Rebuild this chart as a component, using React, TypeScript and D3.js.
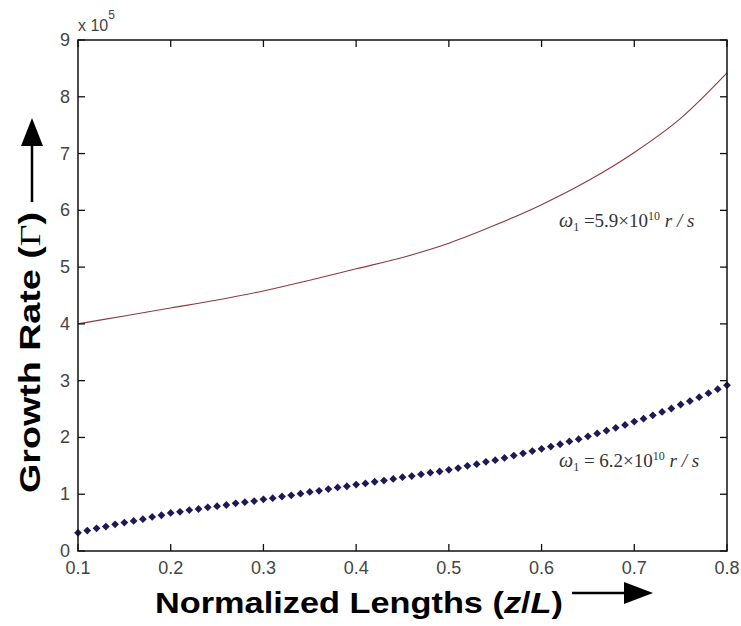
import React from "react";
import * as d3 from "d3";

const redX = [0.10, 0.15, 0.20, 0.25, 0.30, 0.35, 0.40, 0.45, 0.50, 0.55, 0.60, 0.65, 0.70, 0.75, 0.80];
const redY = [4.00, 4.14, 4.28, 4.42, 4.58, 4.77, 4.97, 5.17, 5.42, 5.74, 6.10, 6.52, 7.02, 7.62, 8.42];

const blueX = d3.range(71).map((i) => +(0.1 + i * 0.01).toFixed(2));
const blueY = [
  0.32, 0.36, 0.40, 0.43, 0.47, 0.50, 0.53, 0.56, 0.60, 0.63,
  0.67, 0.69, 0.72, 0.74, 0.77, 0.79, 0.81, 0.84, 0.86, 0.88,
  0.91, 0.93, 0.96, 0.98, 1.01, 1.04, 1.06, 1.09, 1.12, 1.14,
  1.17, 1.19, 1.22, 1.24, 1.27, 1.30, 1.32, 1.35, 1.38, 1.40,
  1.43, 1.46, 1.50, 1.53, 1.57, 1.60, 1.64, 1.68, 1.72, 1.76,
  1.80, 1.84, 1.88, 1.93, 1.97, 2.02, 2.07, 2.12, 2.17, 2.22,
  2.28, 2.33, 2.39, 2.45, 2.51, 2.58, 2.64, 2.71, 2.78, 2.85,
  2.92,
];

const xTicks = [0.1, 0.2, 0.3, 0.4, 0.5, 0.6, 0.7, 0.8];
const yTicks = [0, 1, 2, 3, 4, 5, 6, 7, 8, 9];

export default function App() {
  const W = 741, H = 626;
  const L = 78, R = 727, T = 40, B = 551;
  const x = d3.scaleLinear().domain([0.1, 0.8]).range([L, R]);
  const y = d3.scaleLinear().domain([0, 9]).range([B, T]);
  const redLine = d3.line<number>().x((_, i) => x(redX[i])).y((d) => y(d)).curve(d3.curveMonotoneX)(redY) || "";
  const s = 3.9;
  const diamond = `M0,${-s} L${s},0 L0,${s} L${-s},0 Z`;
  const tickLen = 7;
  const sans = "'Liberation Sans', Arial, sans-serif";
  const serif = "'Liberation Serif', 'Times New Roman', serif";
  return (
    <svg width={W} height={H} style={{ position: "absolute", left: 0, top: 0, background: "#fff" }}>
      <rect x={0} y={0} width={W} height={H} fill="#fff" />
      {/* red curve */}
      <path d={redLine} fill="none" stroke="#8a3a40" strokeWidth={1.1} />
      {/* blue markers */}
      {blueY.map((v, i) => (
        <path key={i} d={diamond} transform={`translate(${x(blueX[i])},${y(v)})`} fill="#1c1a55" />
      ))}
      {/* box */}
      <rect x={L} y={T} width={R - L} height={B - T} fill="none" stroke="#111" strokeWidth={1.5} />
      {xTicks.map((t) => (
        <g key={"x" + t}>
          <line x1={x(t)} x2={x(t)} y1={B} y2={B - tickLen} stroke="#111" strokeWidth={1.3} />
          <line x1={x(t)} x2={x(t)} y1={T} y2={T + tickLen} stroke="#111" strokeWidth={1.3} />
          <text x={x(t)} y={574} textAnchor="middle" fontFamily={sans} fontSize={18} fill="#444">
            {t.toFixed(1)}
          </text>
        </g>
      ))}
      {yTicks.map((t) => (
        <g key={"y" + t}>
          <line x1={L} x2={L + tickLen} y1={y(t)} y2={y(t)} stroke="#111" strokeWidth={1.3} />
          <line x1={R} x2={R - tickLen} y1={y(t)} y2={y(t)} stroke="#111" strokeWidth={1.3} />
          <text x={70} y={y(t) + 6} textAnchor="end" fontFamily={sans} fontSize={18} fill="#444">
            {t}
          </text>
        </g>
      ))}
      {/* exponent */}
      <text x={78} y={31} fontFamily={sans} fontSize={16} fill="#444">
        x 10
        <tspan dy={-12} fontSize={12}>5</tspan>
      </text>
      {/* annotations */}
      <text x={559} y={227} fontFamily={serif} fontSize={19} fill="#333">
        <tspan fontStyle="italic" fontSize={20}>ω</tspan>
        <tspan fontSize={12} dy={4}>1</tspan>
        <tspan dy={-4}> =5.9×10</tspan>
        <tspan fontSize={12} dy={-7}>10</tspan>
        <tspan dy={7} fontStyle="italic"> r / s</tspan>
      </text>
      <text x={559} y={467} fontFamily={serif} fontSize={19} fill="#333">
        <tspan fontStyle="italic" fontSize={20}>ω</tspan>
        <tspan fontSize={12} dy={4}>1</tspan>
        <tspan dy={-4}> = 6.2×10</tspan>
        <tspan fontSize={12} dy={-7}>10</tspan>
        <tspan dy={7} fontStyle="italic"> r / s</tspan>
      </text>
      {/* x title */}
      <text x={155} y={613} fontFamily={sans} fontWeight="bold" fontSize={30} fill="#000" textLength={408} lengthAdjust="spacingAndGlyphs">
        Normalized Lengths (<tspan fontStyle="italic">z</tspan>/<tspan fontStyle="italic">L</tspan>)
      </text>
      <line x1={572} x2={630} y1={593} y2={593} stroke="#000" strokeWidth={2.5} />
      <path d="M653,593 L624,582 L624,604 Z" fill="#000" />
      {/* y title */}
      <text transform="translate(40,493) rotate(-90)" fontFamily={sans} fontWeight="bold" fontSize={30} fill="#000" textLength={281} lengthAdjust="spacingAndGlyphs">
        Growth Rate (<tspan fontFamily={serif} fontWeight="normal">Γ</tspan>)
      </text>
      <line x1={32} x2={32} y1={202} y2={138} stroke="#000" strokeWidth={2.5} />
      <path d="M32,118 L21,146 L43,146 Z" fill="#000" />
    </svg>
  );
}
